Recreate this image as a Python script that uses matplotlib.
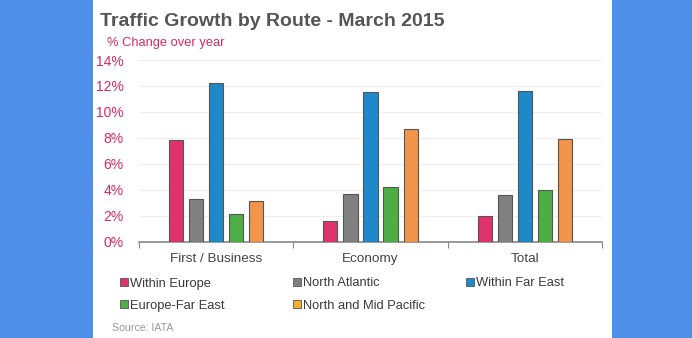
import numpy as np
import matplotlib.pyplot as plt
from matplotlib.patches import Rectangle

plt.rcParams['font.family'] = ['Liberation Sans', 'DejaVu Sans']

# Data
categories = ['First / Business', 'Economy', 'Total']
series = ['Within Europe', 'North Atlantic', 'Within Far East',
          'Europe-Far East', 'North and Mid Pacific']
within_europe = [7.8, 1.6, 1.95]
north_atlantic = [3.3, 3.65, 3.6]
within_far_east = [12.2, 11.55, 11.6]
europe_far_east = [2.15, 4.25, 4.0]
north_mid_pacific = [3.15, 8.7, 7.9]
values = [within_europe, north_atlantic, within_far_east,
          europe_far_east, north_mid_pacific]
colors = ['#e0336e', '#808080', '#1f88c9', '#4cae45', '#f0954a']
legend_colors = ['#e0336e', '#808080', '#1f88c9', '#4cae45', '#f2ae2c']
yticks = [0, 2, 4, 6, 8, 10, 12, 14]

W, H = 692, 338
fig = plt.figure(figsize=(W / 100, H / 100), dpi=100)
fig.patch.set_facecolor('#4e90e9')
fig.patches.append(Rectangle((93 / W, 0), (612 - 93) / W, 1, transform=fig.transFigure,
                             facecolor='white', edgecolor='none', zorder=-5))

ax = fig.add_axes([139 / W, 1 - 241.7 / H, (602 - 139) / W, (241.7 - 60) / H])
ax.set_facecolor('white')
ax.set_zorder(2)

x = np.arange(len(categories))
width = 0.092
step = 0.13
for i, (name, vals, c) in enumerate(zip(series, values, colors)):
    ax.bar(x + (i - 2) * step, vals, width, color=c, edgecolor='#555555',
           linewidth=0.8, zorder=3, label=name)

ax.set_xlim(-0.5, 2.5)
ax.set_ylim(0, 14)
ax.set_yticks(yticks)
ax.set_yticklabels([f'{t}%' for t in yticks], color='#d42a62', fontsize=10)
ax.yaxis.grid(True, color='#eeeeee', linewidth=0.8, zorder=0)
ax.tick_params(axis='y', length=0, pad=11)
ax.set_xticks([-0.5, 0.5, 1.5, 2.5])
ax.set_xticklabels([])
ax.set_xticks(x, minor=True)
ax.set_xticklabels(categories, minor=True, fontsize=9.7, color='#444444')
ax.tick_params(axis='x', which='major', length=4, color='#888888', direction='out')
ax.tick_params(axis='x', which='minor', length=0, pad=8)
for s in ['top', 'right', 'left']:
    ax.spines[s].set_visible(False)
ax.spines['bottom'].set_color('#888888')
ax.spines['bottom'].set_linewidth(1.2)

fig.text(100 / W, 1 - 21 / H, 'Traffic Growth by Route - March 2015', fontsize=14,
         fontweight='bold', color='#555555', va='center', ha='left')
fig.text(107 / W, 1 - 43 / H, '% Change over year', fontsize=9.3, color='#d42a62',
         va='center', ha='left')
fig.text(112 / W, 1 - 328 / H, 'Source: IATA', fontsize=7.6, color='#999999',
         va='center', ha='left')

# Legend, three columns placed by hand
handles = [Rectangle((0, 0), 1, 1, facecolor=c, edgecolor='#555555', linewidth=0.6)
           for c in legend_colors]
columns = [([0, 3], 120), ([1, 4], 293), ([2], 466)]
for idx, xpos in columns:
    fig.legend([handles[k] for k in idx], [series[k] for k in idx],
               loc='upper left', bbox_to_anchor=(xpos / W, 1 - 277.5 / H),
               frameon=False, fontsize=9.3, handlelength=0.6, handleheight=0.6,
               handletextpad=0.2, labelspacing=0.8, borderaxespad=0,
               borderpad=0, labelcolor='#3a3a3a')

fig.savefig('out.png', dpi=100, facecolor=fig.get_facecolor())
